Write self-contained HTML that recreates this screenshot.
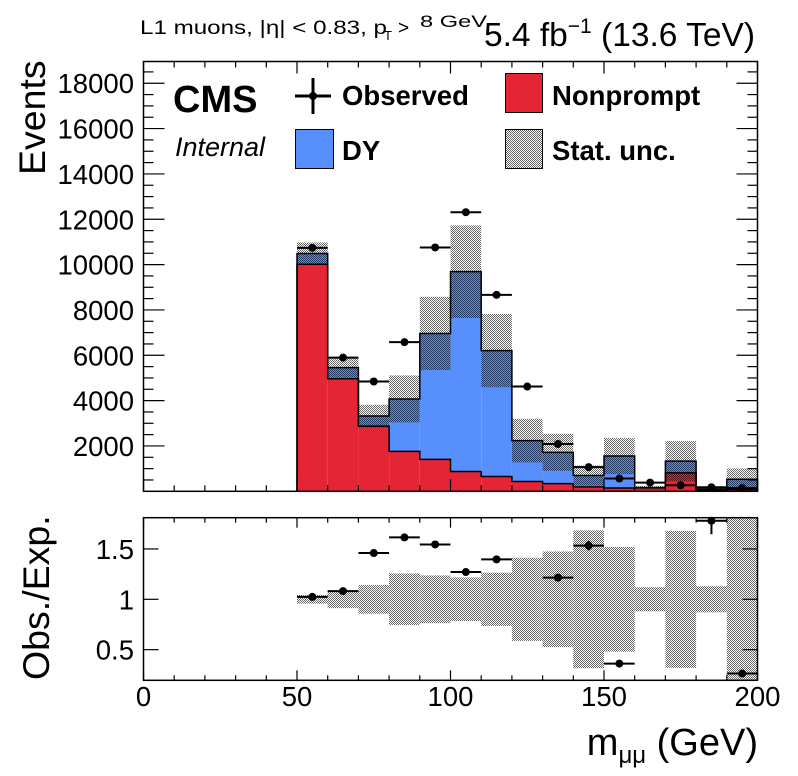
<!DOCTYPE html>
<html><head><meta charset="utf-8"><style>
html,body{margin:0;padding:0;background:#fff;}
svg{display:block;font-family:"Liberation Sans",sans-serif;}
</style></head><body>
<svg id="c" width="798" height="776" viewBox="0 0 798 776" xmlns="http://www.w3.org/2000/svg">
<defs>
<pattern id="hatch" width="2" height="2" patternUnits="userSpaceOnUse">
<rect x="0" y="0" width="1" height="1" fill="#000" fill-opacity="0.6"/>
<rect x="1" y="1" width="1" height="1" fill="#000" fill-opacity="0.6"/>
</pattern>
</defs>
<g id="gtop"></g>
<g id="gbot"></g>
<g>
<text x="140" y="34" font-size="19" textLength="247" lengthAdjust="spacingAndGlyphs">L1 muons, |η| &lt; 0.83, p</text>
<text x="384" y="40" font-size="13">T</text>
<text x="398" y="34" font-size="19">&gt;</text>
<text x="420" y="27" font-size="17" textLength="67" lengthAdjust="spacingAndGlyphs">8 GeV</text>
</g>
<text x="755" y="46" font-size="33.5" text-anchor="end">5.4 fb<tspan font-size="21" dy="-13">−1</tspan><tspan dy="13"> (13.6 TeV)</tspan></text>
<text x="173" y="112" font-size="38" font-weight="bold">CMS</text>
<text x="175" y="156" font-size="27" font-style="italic">Internal</text>
<g>
<g>
<line x1="295" y1="96" x2="331" y2="96" stroke="#000" stroke-width="3"/>
<line x1="313" y1="78" x2="313" y2="114" stroke="#000" stroke-width="3"/>
<circle cx="313" cy="96" r="4" fill="#000"/>
<text x="342" y="105" font-size="27.5" font-weight="bold">Observed</text>
</g>
<g>
<rect x="295.5" y="129.5" width="38" height="39" fill="#5790fc" stroke="#000" stroke-width="1"/>
<text x="342" y="160" font-size="27.5" font-weight="bold">DY</text>
</g>
<g>
<rect x="505.5" y="73.5" width="37" height="39" fill="#e42536" stroke="#000" stroke-width="1"/>
<text x="552" y="105" font-size="27.5" font-weight="bold">Nonprompt</text>
</g>
<g>
<rect x="505.5" y="129.5" width="37" height="39" fill="#fff" stroke="#000" stroke-width="1"/>
<rect x="505.5" y="129.5" width="37" height="39" fill="url(#hatch)"/>
<text x="552" y="160" font-size="27.5" font-weight="bold">Stat. unc.</text>
</g>
</g>
<text transform="translate(45,175) rotate(-90)" font-size="37.5">Events</text>
<text transform="translate(49,680) rotate(-90)" font-size="37.5">Obs./Exp.</text>
<text x="758" y="755" font-size="38" text-anchor="end">m<tspan font-size="24" dy="8">μμ</tspan><tspan dy="-8"> (GeV)</tspan></text>
</svg>
<script>
const binLow = [50,60,70,80,90,100,110,120,130,140,150,160,170,180,190];
const nonprompt = [10013,4964,2874,1763,1407,874,652,430,341,193,148,160,813,60,75];
const dy = [476,489,445,2311,5556,8815,5555,1807,1378,503,1408,0,520,40,458];
const statUnc = [490,450,500,1037,1615,2044,1615,963,815,444,800,80,889,60,475];
const observed = [10740,5898,4844,6578,10756,12311,8667,4622,2089,1067,563,385,267,178,140];
const ratioBand = [0.043,0.088,0.143,0.257,0.237,0.217,0.265,0.413,0.475,0.685,0.52,0.12,0.68,0.13,0.9];
const yTicks = [2000,4000,6000,8000,10000,12000,14000,16000,18000];
const rTicks = [0.5,1,1.5];
const xTicks = [0,50,100,150,200];

const NS="http://www.w3.org/2000/svg";
const X0=143.5,X1=757.5,XMAX=200;
const T0=491.3,T1=61.5,TMAX=(T0-T1)/0.02267;
const R0=680.3,R1=517.7;
const xs=v=>X0+(v/XMAX)*(X1-X0);
const ys=v=>Math.max(T1,T0-v*0.02267);
const yr=v=>Math.min(R0,Math.max(R1,599.3-(v-1)*100.7));
function mk(p,t,a){const e=document.createElementNS(NS,t);for(const k in a)e.setAttribute(k,a[k]);p.appendChild(e);return e;}
const gTop=document.getElementById('gtop'),gBot=document.getElementById('gbot');
const svgEl=document.getElementById('c');

binLow.forEach((b,i)=>{
  const xa=xs(b),xb=xs(b+10),w=xb-xa;
  const tot=nonprompt[i]+dy[i];
  const r1=mk(gTop,'rect',{x:xa,y:ys(nonprompt[i]),width:w,height:T0-ys(nonprompt[i]),fill:'#e42536'});
  
  
  const r2=mk(gTop,'rect',{x:xa,y:ys(tot),width:w,height:ys(nonprompt[i])-ys(tot),fill:'#5790fc'});
  
  
});
['np','tot'].forEach(k=>{
  let d='M'+xs(binLow[0])+','+T0;
  binLow.forEach((b,i)=>{const v=k=='np'?nonprompt[i]:nonprompt[i]+dy[i];d+=' L'+xs(b)+','+ys(v)+' L'+xs(b+10)+','+ys(v);});
  d+=' L'+xs(200)+','+T0;
  const p=mk(gTop,'path',{d:d,fill:'none',stroke:'#000','stroke-width':1.5});
  
  
});
binLow.forEach((b,i)=>{
  const tot=nonprompt[i]+dy[i];
  const h=mk(gTop,'rect',{x:xs(b),y:ys(tot+statUnc[i]),width:xs(b+10)-xs(b),height:ys(Math.max(0,tot-statUnc[i]))-ys(tot+statUnc[i]),fill:'url(#hatch)'});
  
  
});
binLow.forEach((b,i)=>{
  const g=mk(gTop,'g',{});
  
  
  const y=ys(observed[i]),xc=xs(b+5),e=Math.sqrt(observed[i])*0.02267;
  mk(g,'line',{x1:xs(b),x2:xs(b+10),y1:y,y2:y,stroke:'#000','stroke-width':2});
  mk(g,'line',{x1:xc,x2:xc,y1:y-e,y2:y+e,stroke:'#000','stroke-width':2});
  mk(g,'circle',{cx:xc,cy:y,r:4,fill:'#000'});
});
binLow.forEach((b,i)=>{
  const h=mk(gBot,'rect',{x:xs(b),y:yr(1+ratioBand[i]),width:xs(b+10)-xs(b),height:yr(1-ratioBand[i])-yr(1+ratioBand[i]),fill:'url(#hatch)'});
  
  
});
binLow.forEach((b,i)=>{
  const tot=nonprompt[i]+dy[i],r=observed[i]/tot;
  if(r<0.22||r>1.82)return;
  const g=mk(gBot,'g',{});
  
  
  const y=yr(r),xc=xs(b+5),e=Math.sqrt(observed[i])/tot;
  mk(g,'line',{x1:xs(b),x2:xs(b+10),y1:y,y2:y,stroke:'#000','stroke-width':2});
  mk(g,'line',{x1:xc,x2:xc,y1:yr(r+e),y2:yr(r-e),stroke:'#000','stroke-width':2});
  mk(g,'circle',{cx:xc,cy:y,r:4,fill:'#000'});
});
[[T1,T0,'main-frame'],[R1,R0,'ratio-frame']].forEach(f=>{
  const r=mk(svgEl,'rect',{x:X0,y:f[0],width:X1-X0,height:f[1]-f[0],fill:'none',stroke:'#000','stroke-width':1.5});
  
  
});
const ax=mk(svgEl,'g',{stroke:'#000','stroke-width':1.2});


for(let v=0;v<=200;v+=10){
  const x=xs(v),maj=v%50==0;
  const L=maj?12:6;
  mk(ax,'line',{x1:x,x2:x,y1:T0,y2:T0-L});mk(ax,'line',{x1:x,x2:x,y1:T1,y2:T1+L});
  const L2=maj?10:5;
  mk(ax,'line',{x1:x,x2:x,y1:R0,y2:R0-L2});mk(ax,'line',{x1:x,x2:x,y1:R1,y2:R1+L2});
}
for(let v=500;v<=TMAX;v+=500){
  const y=T0-v*0.02267,maj=v%2000==0,L=maj?21:10;
  mk(ax,'line',{x1:X0,x2:X0+L,y1:y,y2:y});mk(ax,'line',{x1:X1,x2:X1-L,y1:y,y2:y});
}
yTicks.forEach(v=>{
  const t=mk(svgEl,'text',{x:134,y:ys(v)+10,'font-size':27.5,'text-anchor':'end'});
  t.textContent=v;
  
  
});
rTicks.forEach(v=>{
  mk(ax,'line',{x1:X0,x2:X0+15,y1:yr(v),y2:yr(v)});mk(ax,'line',{x1:X1,x2:X1-15,y1:yr(v),y2:yr(v)});
  const t=mk(svgEl,'text',{x:134,y:yr(v)+10,'font-size':27.5,'text-anchor':'end'});
  t.textContent=v;
  
  
});
xTicks.forEach(v=>{
  const t=mk(svgEl,'text',{x:xs(v),y:706,'font-size':27.5,'text-anchor':'middle'});
  t.textContent=v;
  
  
});
</script>
</body></html>
